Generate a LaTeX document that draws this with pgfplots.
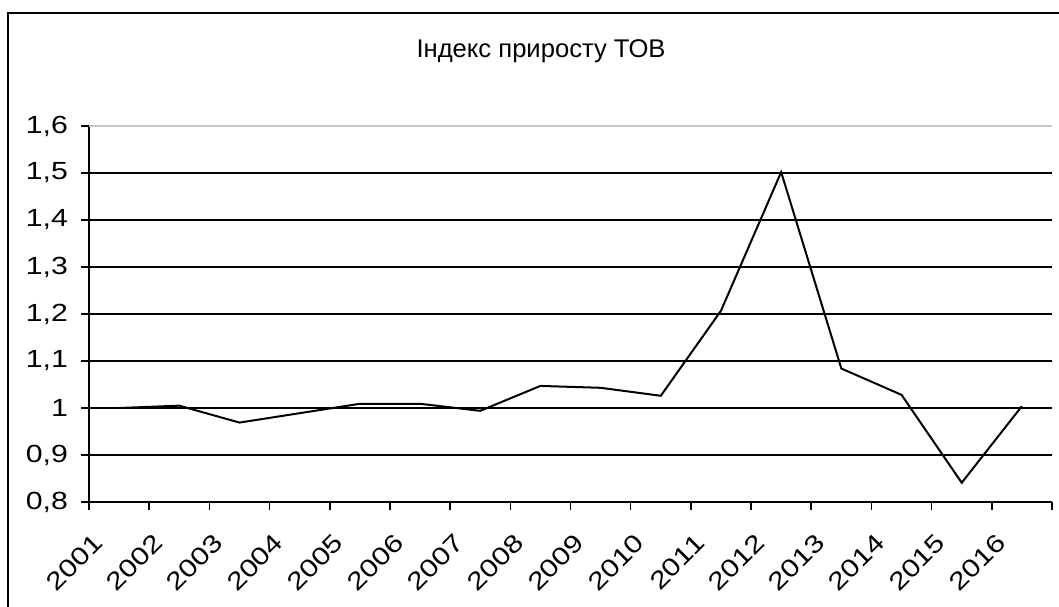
\documentclass[border=0pt]{standalone}
\usepackage{pgfplots}
\pgfplotsset{compat=1.18}
\usepackage{fontspec}
\setmainfont{Liberation Sans}
\newfontfamily\tickfont{Liberation Sans}[FakeStretch=1.22]

\begin{document}
\begin{tikzpicture}
% page area (1 px = 0.5 pt)
\useasboundingbox (0,0) rectangle (529.5pt,303pt);
% chart frame, right and bottom edges run past the page
\draw[line width=1.1pt] (4pt,-20pt) -- (4pt,296.5pt) -- (560pt,296.5pt);
\node[font=\fontsize{12.8}{14}\selectfont] at (270.5pt,277.5pt) {Індекс приросту ТОВ};
\begin{axis}[
  at={(44.5pt,52pt)}, anchor=south west,
  scale only axis, width=481.5pt, height=188pt,
  xmin=-0.5, xmax=15.5, ymin=0.8, ymax=1.6,
  axis x line=bottom, axis y line=left,
  axis line style={-, line width=0.8pt, black},
  tick align=outside,
  tick style={black, line width=0.8pt},
  xtick={0,...,15},
  xticklabels={2001,2002,2003,2004,2005,2006,2007,2008,2009,2010,2011,2012,2013,2014,2015,2016},
  major x tick style={draw=none},
  minor xtick={-0.5,0.5,...,15.5},
  minor tick length=4pt,
  major tick length=4pt,
  xticklabel style={font=\tickfont\fontsize{12.4}{14}\selectfont, xshift=-8pt, yshift=-12pt, rotate=45, anchor=east},
  ytick={0.8,0.9,1.0,1.1,1.2,1.3,1.4,1.5},
  extra y ticks={1.6},
  extra y tick style={grid style={gray!45, line width=0.8pt}},
  ymajorgrids,
  grid style={black, line width=0.8pt},
  yticklabel style={font=\tickfont\fontsize{12.4}{14}\selectfont, xshift=-3pt},
  /pgf/number format/assume math mode=true,
  /pgf/number format/use comma,
  /pgf/number format/fixed,
  /pgf/number format/precision=1,
  clip=false,
]
\addplot[black, line width=1pt, mark=none] coordinates {
  (0,1.000) (1,1.005) (2,0.969) (3,0.989) (4,1.009) (5,1.009)
  (6,0.994) (7,1.047) (8,1.043) (9,1.026) (10,1.207) (11,1.502)
  (12,1.084) (13,1.028) (14,0.841) (15,1.004)
};
\end{axis}
\end{tikzpicture}
\end{document}
